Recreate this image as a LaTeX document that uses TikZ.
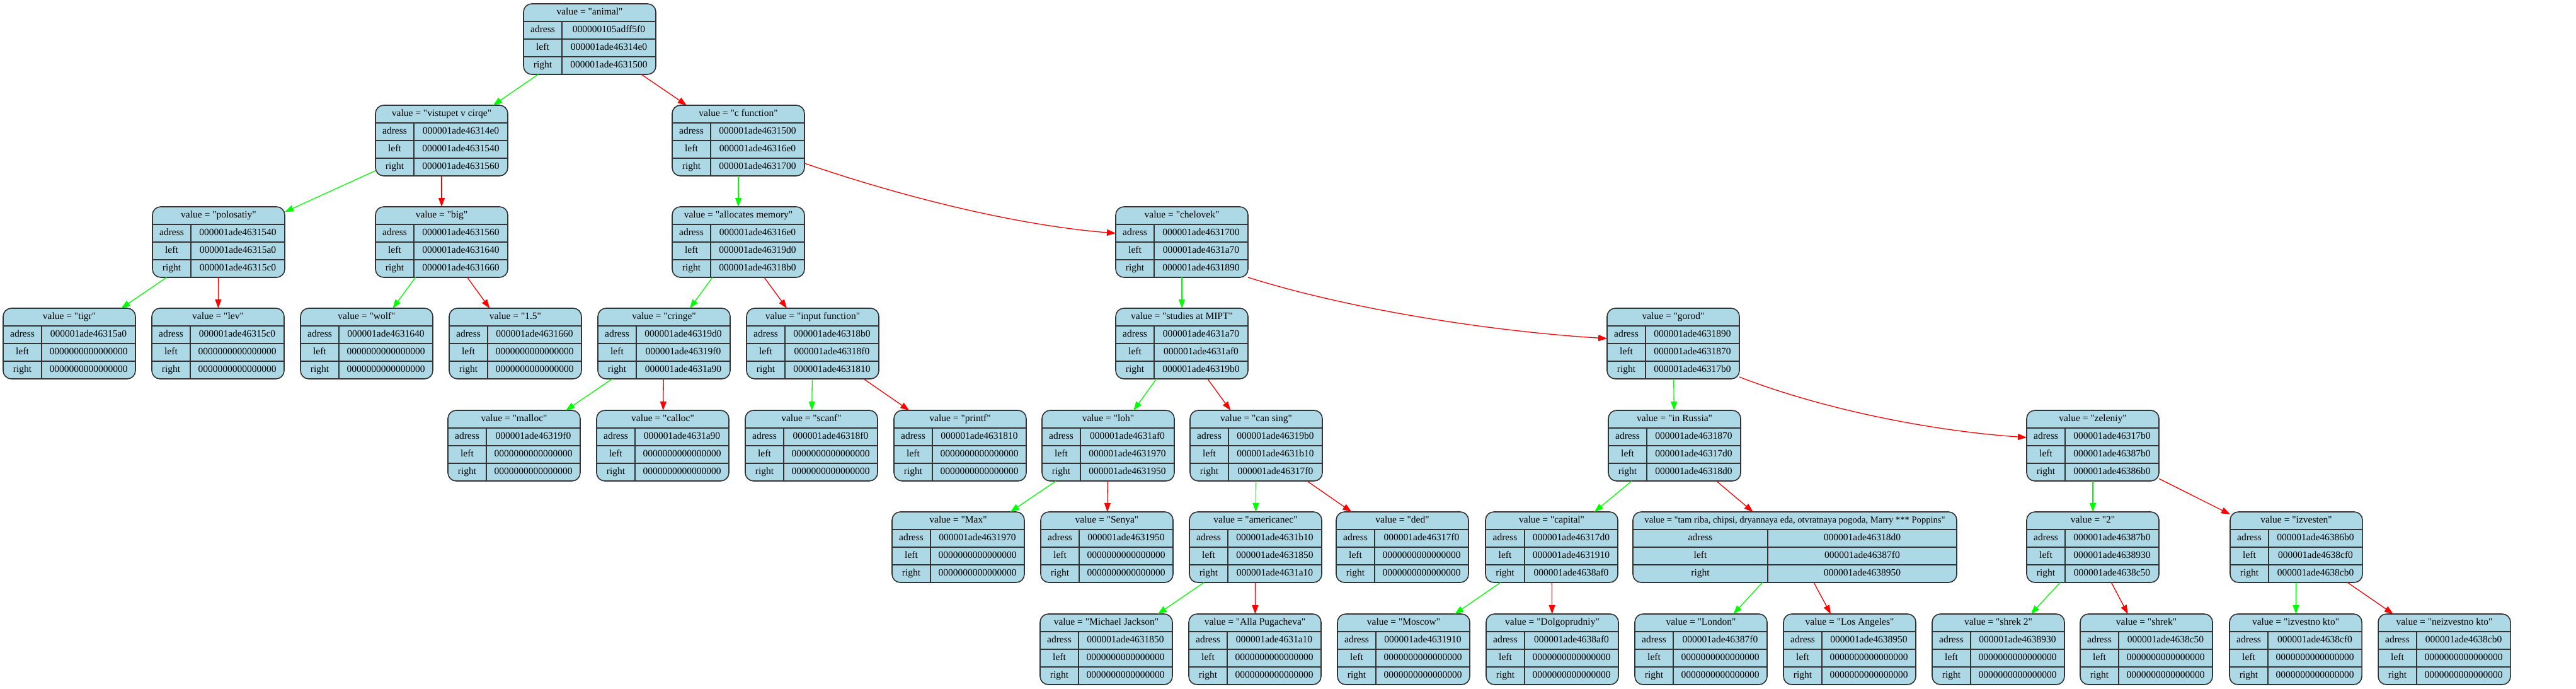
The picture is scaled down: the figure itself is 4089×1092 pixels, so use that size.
\documentclass[tikz,border=0pt]{standalone}
\usepackage{fontspec}
\setmainfont{Liberation Serif}[Ligatures=TeXOff]
\usetikzlibrary{arrows.meta}
\definecolor{nodefill}{HTML}{ADD8E6}
\definecolor{edgegreen}{HTML}{00FF00}
\definecolor{edgered}{HTML}{FF0000}
\definecolor{bordercol}{HTML}{333333}
\tikzset{
  tnbox/.style={draw=bordercol, fill=nodefill, line width=1.6pt, rounded corners=13pt,
    minimum height=112pt, inner sep=0pt, outer sep=0pt, anchor=north west},
  tnline/.style={draw=bordercol, line width=1.6pt},
  tntext/.style={inner sep=0pt, text height=10.5pt, text depth=3.5pt,
    font=\fontsize{15.5}{18}\selectfont},
  tnhead/.style={tntext},
  ledge/.style={draw=edgegreen, line width=1.3pt, -{Triangle[length=14pt,width=10pt]}},
  redge/.style={draw=edgered, line width=1.3pt, -{Triangle[length=14pt,width=10pt]}},
}
% #1 name, #2 left x, #3 top y, #4 width, #5 label column width,
% #6 value, #7 adress, #8 left, #9 right
\newcommand{\treebox}[9]{%
  \node[tnbox, minimum width=#4pt] (#1) at (#2,#3) {};
  \draw[tnline] (#2,#3+28) -- (#2+#4,#3+28);
  \draw[tnline] (#2,#3+56) -- (#2+#4,#3+56);
  \draw[tnline] (#2,#3+84) -- (#2+#4,#3+84);
  \draw[tnline] (#2+#5,#3+28) -- (#2+#5,#3+112);
  \node[tnhead] (#1-v) at (#2+0.5*#4,#3+14) {value = "#6"};
  \node[tntext] (#1-al) at (#2+0.5*#5,#3+42) {adress};
  \node[tntext] (#1-ll) at (#2+0.5*#5,#3+70) {left};
  \node[tntext] (#1-rl) at (#2+0.5*#5,#3+98) {right};
  \node[tntext] (#1-a) at (#2+0.5*#5+0.5*#4,#3+42) {#7};
  \node[tntext] (#1-l) at (#2+0.5*#5+0.5*#4,#3+70) {#8};
  \node[tntext] (#1-r) at (#2+0.5*#5+0.5*#4,#3+98) {#9};
}
\newcommand{\zz}{0000000000000000}
\begin{document}
\begin{tikzpicture}[x=1pt,y=-1pt]
\fill[white] (0,0) rectangle (4089,1092);
\useasboundingbox (0,0) rectangle (4089,1092);
% level 0
\treebox{animal}{831}{6}{210}{61}{animal}{000000105adff5f0}{000001ade46314e0}{000001ade4631500}
% level 1
\treebox{vstupet}{596}{167}{210}{61}{vistupet v cirqe}{000001ade46314e0}{000001ade4631540}{000001ade4631560}
\treebox{cfunc}{1067}{167}{210}{61}{c function}{000001ade4631500}{000001ade46316e0}{000001ade4631700}
% level 2
\treebox{polosatiy}{242}{328}{210}{61}{polosatiy}{000001ade4631540}{000001ade46315a0}{000001ade46315c0}
\treebox{big}{596}{328}{210}{61}{big}{000001ade4631560}{000001ade4631640}{000001ade4631660}
\treebox{allocates}{1067}{328}{210}{61}{allocates memory}{000001ade46316e0}{000001ade46319d0}{000001ade46318b0}
\treebox{chelovek}{1771}{328}{210}{61}{chelovek}{000001ade4631700}{000001ade4631a70}{000001ade4631890}
% level 3
\treebox{tigr}{5}{489}{210}{61}{tigr}{000001ade46315a0}{\zz}{\zz}
\treebox{lev}{241}{489}{210}{61}{lev}{000001ade46315c0}{\zz}{\zz}
\treebox{wolf}{477}{489}{210}{61}{wolf}{000001ade4631640}{\zz}{\zz}
\treebox{onefive}{713}{489}{210}{61}{1.5}{000001ade4631660}{\zz}{\zz}
\treebox{cringe}{949}{489}{210}{61}{cringe}{000001ade46319d0}{000001ade46319f0}{000001ade4631a90}
\treebox{input}{1185}{489}{210}{61}{input function}{000001ade46318b0}{000001ade46318f0}{000001ade4631810}
\treebox{studies}{1771}{489}{210}{61}{studies at MIPT}{000001ade4631a70}{000001ade4631af0}{000001ade46319b0}
\treebox{gorod}{2551}{489}{210}{61}{gorod}{000001ade4631890}{000001ade4631870}{000001ade46317b0}
% level 4
\treebox{malloc}{711}{651}{210}{61}{malloc}{000001ade46319f0}{\zz}{\zz}
\treebox{calloc}{947}{651}{210}{61}{calloc}{000001ade4631a90}{\zz}{\zz}
\treebox{scanf}{1183}{651}{210}{61}{scanf}{000001ade46318f0}{\zz}{\zz}
\treebox{printf}{1419}{651}{210}{61}{printf}{000001ade4631810}{\zz}{\zz}
\treebox{loh}{1654}{651}{210}{61}{loh}{000001ade4631af0}{000001ade4631970}{000001ade4631950}
\treebox{cansing}{1889}{651}{210}{61}{can sing}{000001ade46319b0}{000001ade4631b10}{000001ade46317f0}
\treebox{inrussia}{2553}{651}{210}{61}{in Russia}{000001ade4631870}{000001ade46317d0}{000001ade46318d0}
\treebox{zeleniy}{3217}{651}{210}{61}{zeleniy}{000001ade46317b0}{000001ade46387b0}{000001ade46386b0}
% level 5
\treebox{max}{1416}{812}{210}{61}{Max}{000001ade4631970}{\zz}{\zz}
\treebox{senya}{1652}{812}{210}{61}{Senya}{000001ade4631950}{\zz}{\zz}
\treebox{americanec}{1888}{812}{210}{61}{americanec}{000001ade4631b10}{000001ade4631850}{000001ade4631a10}
\treebox{ded}{2121}{812}{210}{61}{ded}{000001ade46317f0}{\zz}{\zz}
\treebox{capital}{2358}{812}{210}{62}{capital}{000001ade46317d0}{000001ade4631910}{000001ade4638af0}
\tikzset{tnhead/.style={tntext, font=\fontsize{14.6}{17}\selectfont}}
\treebox{tamriba}{2592}{812}{514}{214}{tam riba, chipsi, dryannaya eda, otvratnaya pogoda, Marry *** Poppins}{000001ade46318d0}{000001ade46387f0}{000001ade4638950}
\tikzset{tnhead/.style={tntext}}
\treebox{two}{3217}{812}{210}{61}{2}{000001ade46387b0}{000001ade4638930}{000001ade4638c50}
\treebox{izvesten}{3540}{812}{210}{61}{izvesten}{000001ade46386b0}{000001ade4638cf0}{000001ade4638cb0}
% level 6
\treebox{michael}{1651}{974}{210}{61}{Michael Jackson}{000001ade4631850}{\zz}{\zz}
\treebox{alla}{1887}{974}{210}{61}{Alla Pugacheva}{000001ade4631a10}{\zz}{\zz}
\treebox{moscow}{2123}{974}{210}{61}{Moscow}{000001ade4631910}{\zz}{\zz}
\treebox{dolgo}{2359}{974}{210}{61}{Dolgoprudniy}{000001ade4638af0}{\zz}{\zz}
\treebox{london}{2595}{974}{210}{61}{London}{000001ade46387f0}{\zz}{\zz}
\treebox{losangeles}{2831}{974}{210}{61}{Los Angeles}{000001ade4638950}{\zz}{\zz}
\treebox{shrektwo}{3067}{974}{210}{61}{shrek 2}{000001ade4638930}{\zz}{\zz}
\treebox{shrek}{3302}{974}{210}{61}{shrek}{000001ade4638c50}{\zz}{\zz}
\treebox{izvestno}{3539}{974}{210}{61}{izvestno kto}{000001ade4638cf0}{\zz}{\zz}
\treebox{neizvestno}{3775}{974}{210}{61}{neizvestno kto}{000001ade4638cb0}{\zz}{\zz}
% edges
\draw[ledge] (animal) -- (vstupet);
\draw[redge] (animal) -- (cfunc);
\draw[ledge] (vstupet) -- (polosatiy);
\draw[redge] (vstupet) -- (big);
\draw[ledge] (cfunc) -- (allocates);
\draw[redge] ([yshift=-36pt]cfunc.east) .. controls (1440,315) and (1620,358) .. ([yshift=14pt]chelovek.west);
\draw[ledge] (polosatiy) -- (tigr);
\draw[redge] (polosatiy) -- (lev);
\draw[ledge] (big) -- (wolf);
\draw[redge] (big) -- (onefive);
\draw[ledge] (allocates) -- (cringe);
\draw[redge] (allocates) -- (input);
\draw[ledge] (chelovek) -- (studies);
\draw[redge] (chelovek.south east) .. controls (2140,490) and (2360,525) .. ([yshift=8pt]gorod.west);
\draw[ledge] (cringe) -- (malloc);
\draw[redge] (cringe) -- (calloc);
\draw[ledge] (input) -- (scanf);
\draw[redge] (input) -- (printf);
\draw[ledge] (studies) -- (loh);
\draw[redge] (studies) -- (cansing);
\draw[ledge] (gorod) -- (inrussia);
\draw[redge] ([yshift=-53pt]gorod.east) .. controls (2890,648) and (3060,683) .. ([yshift=13pt]zeleniy.west);
\draw[ledge] (loh) -- (max);
\draw[redge] (loh) -- (senya);
\draw[ledge] (cansing) -- (americanec);
\draw[redge] (cansing) -- (ded);
\draw[ledge] (inrussia) -- (capital);
\draw[redge] (inrussia) -- (tamriba);
\draw[ledge] (zeleniy) -- (two);
\draw[redge] (zeleniy) -- (izvesten);
\draw[ledge] (americanec) -- (michael);
\draw[redge] (americanec) -- (alla);
\draw[ledge] (capital) -- (moscow);
\draw[redge] (capital) -- (dolgo);
\draw[ledge] (tamriba) -- (london);
\draw[redge] (tamriba) -- (losangeles);
\draw[ledge] (two) -- (shrektwo);
\draw[redge] (two) -- (shrek);
\draw[ledge] (izvesten) -- (izvestno);
\draw[redge] (izvesten) -- (neizvestno);
\end{tikzpicture}
\end{document}
